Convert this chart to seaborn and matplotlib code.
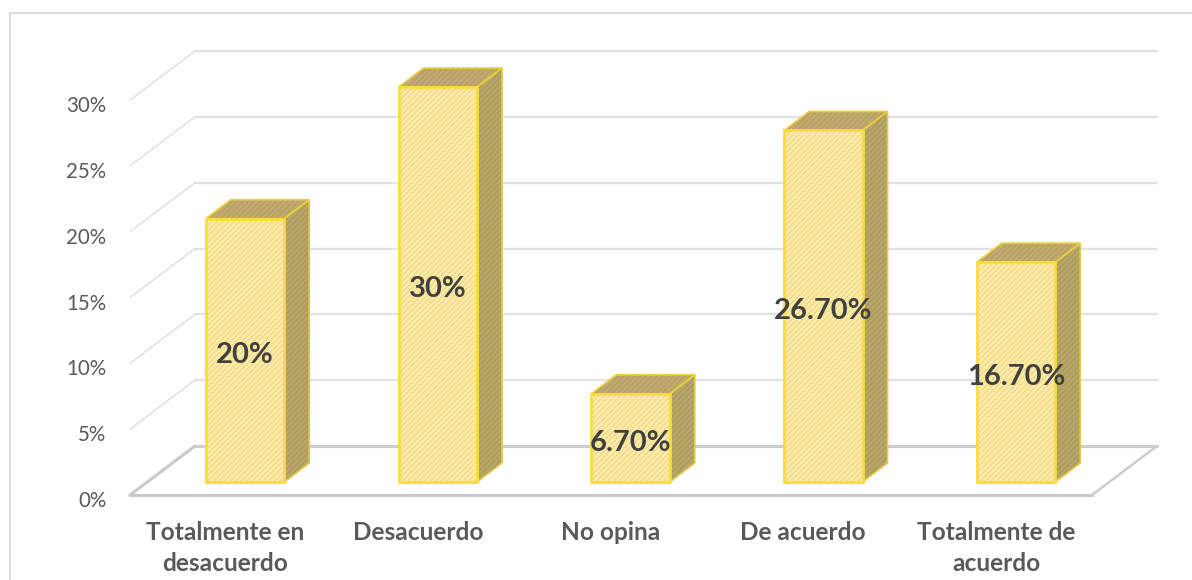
import matplotlib
matplotlib.use("Agg")
import matplotlib.pyplot as plt
from matplotlib.patches import Polygon, Rectangle
from matplotlib.transforms import IdentityTransform, ScaledTranslation
import pandas as pd
import seaborn as sns

categories = ["Totalmente en\ndesacuerdo", "Desacuerdo", "No opina", "De acuerdo", "Totalmente de\nacuerdo"]
values = [20, 30, 6.7, 26.7, 16.7]
value_labels = ["20%", "30%", "6.70%", "26.70%", "16.70%"]
y_ticks = [0, 5, 10, 15, 20, 25, 30]

W, H = 1192, 580

sns.set_theme(style="white")
plt.rcParams["font.family"] = ["Lato", "DejaVu Sans"]
plt.rcParams["hatch.linewidth"] = 1.1

fig = plt.figure(figsize=(W / 100, H / 100), dpi=100, facecolor="white")

# front plane of the bars: 0% at y=482px, 30% at y=87px
ax = fig.add_axes([130 / W, 1 - 482 / H, (1092 - 130) / W, 395 / H])
ax.patch.set_alpha(0)

df = pd.DataFrame({"cat": categories, "val": values})
sns.barplot(data=df, x="cat", y="val", ax=ax, color="#FFEDA8", saturation=1,
            width=0.407, edgecolor="#F1D88C", linewidth=0, hatch="//////")
ax.set_xlim(-0.597, 4.394)
ax.set_ylim(0, 30)
ax.set_xlabel("")
ax.set_ylabel("")
for s in ax.spines.values():
    s.set_visible(False)


def shifted(px, py):
    return ax.transData + ScaledTranslation(px / 100, -py / 100, fig.dpi_scale_trans)


pixels = IdentityTransform()

# floor and walls, offsets in px from the bar front plane
front = shifted(0, 13)
back = shifted(65, -36)
x0, x1 = ax.get_xlim()
for v in y_ticks:
    lw = 2.2 if v == 0 else 1.6
    col = "#CDCDCD" if v == 0 else "#E2E2E2"
    ax.plot([x0, x1], [v, v], transform=back, color=col, lw=lw, zorder=1, clip_on=False)
    # side wall, from front corner to back corner
    p0 = front.transform((x0, v))
    p1 = back.transform((x0, v))
    ax.plot([p0[0], p1[0]], [p0[1], p1[1]], transform=pixels, color="#DADADA" if v else "#C8C8C8",
            lw=0.9 if v else 2.2, zorder=1, clip_on=False)
ax.plot([x0, x1], [0, 0], transform=front, color="#C8C8C8", lw=2.2, zorder=1, clip_on=False)
p0 = front.transform((x1, 0))
p1 = back.transform((x1, 0))
ax.plot([p0[0], p1[0]], [p0[1], p1[1]], transform=pixels, color="#CCCCCC", lw=1.8, zorder=1, clip_on=False)

# 3D sides of each bar
dx, dy = 25, 19
for bar, lab in zip(list(ax.patches), value_labels):
    bar.set_zorder(3)
    xa = bar.get_x()
    xb = xa + bar.get_width()
    top = bar.get_height()
    a = ax.transData.transform((xa, top))
    b = ax.transData.transform((xb, top))
    c = ax.transData.transform((xb, 0))
    ax.add_patch(Polygon([b, b + (dx, dy), c + (dx, dy), c], closed=True, transform=pixels,
                         facecolor="#B8A672", edgecolor="#AB9C50", hatch="//////", linewidth=0,
                         zorder=2, clip_on=False))
    ax.add_patch(Polygon([b, b + (dx, dy), c + (dx, dy), c], closed=True, transform=pixels,
                         fill=False, edgecolor="#E4C94A", linewidth=1.2, zorder=2.1, clip_on=False))
    ax.add_patch(Polygon([a, b, b + (dx, dy), a + (dx, dy)], closed=True, transform=pixels,
                         facecolor="#C2AB74", edgecolor="#B5A05C", hatch="//////", linewidth=0,
                         zorder=2, clip_on=False))
    ax.add_patch(Polygon([a, b, b + (dx, dy), a + (dx, dy)], closed=True, transform=pixels,
                         fill=False, edgecolor="#EBCF40", linewidth=1.2, zorder=2.1, clip_on=False))
    # yellow outline of the front face
    ax.add_patch(Rectangle((xa, 0), bar.get_width(), top, fill=False, edgecolor="#FADB40",
                           linewidth=2.0, zorder=4, clip_on=False))
    ax.annotate(lab, (xa + bar.get_width() / 2, top / 2), xytext=(0, -3.5), textcoords="offset points",
                ha="center", va="center", fontsize=21, fontweight="bold", color="#404040", zorder=6)

# tick labels sit on the front edge of the side wall
ax.set_yticks(y_ticks)
ax.set_yticklabels([f"{v}%" for v in y_ticks], fontsize=14.8, color="#595959")
ax.tick_params(axis="y", length=0, pad=17)
for t in ax.get_yticklabels():
    t.set_transform(t.get_transform() + ScaledTranslation(0, -17 / 100, fig.dpi_scale_trans))
ax.set_xticks(range(len(categories)))
ax.set_xticklabels(categories, fontsize=17.6, fontweight="bold", color="#595959", linespacing=1.44)
ax.tick_params(axis="x", length=0, pad=28)
for t in ax.get_xticklabels():
    t.set_transform(t.get_transform() + ScaledTranslation(-20 / 100, 0, fig.dpi_scale_trans))

# outer frame of the chart, right and bottom fall outside the picture
fig.add_artist(Rectangle((10 / W, -0.02), 1.1, 1 - 13 / H + 0.02, transform=fig.transFigure,
                         fill=False, edgecolor="#D9D9D9", linewidth=1.3))

fig.savefig("out.png", dpi=100)
